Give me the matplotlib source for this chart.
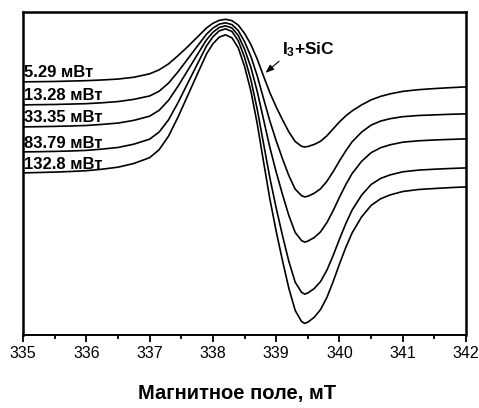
import matplotlib
matplotlib.use("Agg")
import matplotlib.pyplot as plt
from matplotlib.ticker import MultipleLocator

plt.rcParams["font.family"] = ["Liberation Sans", "DejaVu Sans"]
plt.rcParams["mathtext.fontset"] = "custom"
plt.rcParams["mathtext.bf"] = "Liberation Sans:bold"

# magnetic field, mT
field = [335, 335.25, 335.5, 335.75, 336, 336.25, 336.5, 336.75, 337, 337.15,
         337.3, 337.45, 337.6, 337.75, 337.9, 338, 338.1, 338.2, 338.3, 338.4,
         338.5, 338.6, 338.7, 338.8, 338.9, 339, 339.1, 339.2, 339.3, 339.4,
         339.45, 339.5, 339.6, 339.7, 339.8, 339.9, 340, 340.1, 340.2, 340.35,
         340.5, 340.65, 340.8, 341, 341.25, 341.5, 341.75, 342]

# EPR derivative signal (arb. units), one spectrum per microwave power
sig_5_29 = [253, 253.2, 253.4, 253.8, 254.2, 254.9, 255.8, 257.6, 261.0, 265.0,
            271.0, 279.2, 288.0, 297.5, 306.9, 311.5, 314.5, 315.5, 314.2, 309.8,
            301.5, 290.4, 275.9, 258.8, 242.2, 228.0, 215.1, 203.0, 193.4, 188.6,
            187.9, 188.4, 190.4, 193.6, 199.0, 206.0, 213.0, 219.0, 224.0, 230.0,
            235.0, 238.5, 241.0, 243.5, 245.2, 246.3, 247.2, 248]
sig_13_28 = [230, 230.2, 230.4, 230.8, 231.2, 232.1, 233.3, 235.5, 238.9, 243.6,
             251.8, 263.1, 275.7, 288.3, 300.7, 306.7, 310.7, 312.0, 310.3, 304.3,
             293.3, 278.5, 259.1, 236.4, 213.9, 194.1, 176.1, 159.3, 145.8, 139.3,
             138.0, 138.7, 141.6, 146.1, 153.5, 163.2, 174.0, 184.1, 193.1, 202.8,
             209.8, 213.8, 216.2, 218.2, 219.4, 220.0, 220.6, 221]
sig_33_35 = [208, 208.2, 208.5, 208.9, 209.4, 210.5, 211.8, 214.5, 218.7, 224.5,
             234.6, 248.7, 264.2, 279.7, 295.1, 302.5, 307.4, 309.0, 306.9, 299.5,
             285.8, 267.6, 243.6, 215.5, 187.5, 162.9, 140.4, 119.4, 102.5, 94.4,
             92.8, 93.8, 97.3, 103.0, 112.2, 124.3, 137.7, 150.3, 161.4, 173.6,
             182.2, 187.2, 190.1, 192.7, 194.1, 194.9, 195.5, 196]
sig_83_79 = [183, 183.2, 183.5, 183.9, 184.5, 185.8, 187.4, 190.7, 195.7, 202.8,
             215.1, 232.3, 251.3, 270.2, 289.0, 298.0, 304.0, 306.0, 303.4, 294.3,
             277.6, 255.2, 225.8, 191.4, 157.1, 126.9, 99.3, 73.6, 52.8, 42.7,
             40.8, 42.0, 46.3, 53.3, 64.6, 79.4, 95.8, 111.3, 124.9, 139.8,
             150.4, 156.5, 160.0, 163.1, 164.8, 165.7, 166.4, 167]
sig_132_8 = [162, 162.4, 162.8, 163.4, 164.2, 165.7, 167.7, 171.4, 177.2, 185.1,
             198.8, 217.9, 239.0, 260.1, 281.0, 291.0, 297.7, 300.0, 297.1, 287.1,
             268.6, 243.9, 211.4, 173.3, 136.0, 103.7, 74.2, 46.7, 24.6, 13.5,
             11.6, 12.8, 17.6, 25.3, 37.3, 53.3, 70.9, 87.5, 102.1, 118.1,
             129.5, 136.1, 140.0, 143.4, 145.4, 146.4, 147.3, 148]

powers = ["5.29 мВт", "13.28 мВт", "33.35 мВт", "83.79 мВт", "132.8 мВт"]
spectra = [sig_5_29, sig_13_28, sig_33_35, sig_83_79, sig_132_8]

fig = plt.figure(figsize=(4.79, 4.08), dpi=100)
ax = fig.add_axes([0.048, 0.179, 0.925, 0.792])

for label, sig in zip(powers, spectra):
    ax.plot(field, sig, color="black", lw=1.2)
    # power label sits on the left wing of each spectrum
    ax.annotate(label, xy=(field[0], sig[0]), xytext=(0.5, 1),
                textcoords="offset points", ha="left", va="bottom",
                fontsize=12, fontweight="bold")

ax.annotate(r"$\mathbf{I_3{+}SiC}$", xy=(338.83, 262), xytext=(339.09, 276),
            ha="left", va="bottom", fontsize=12.5,
            arrowprops=dict(arrowstyle="-|>,head_length=0.4,head_width=0.15",
                            color="black", lw=0.8, relpos=(0, 0),
                            shrinkA=0, shrinkB=0))

ax.set_xlim(335, 342)
ax.set_ylim(0, 323)
ax.xaxis.set_major_locator(MultipleLocator(1))
ax.xaxis.set_minor_locator(MultipleLocator(0.5))
ax.set_yticks([])
ax.tick_params(axis="x", which="major", direction="out", length=5,
               width=1.3, labelsize=11.5, pad=3)
ax.tick_params(axis="x", which="minor", direction="out", length=3, width=1.3)
for side in ["left", "right", "top"]:
    ax.spines[side].set_linewidth(1.8)
ax.spines["bottom"].set_linewidth(1.4)

ax.set_xlabel("Магнитное поле, мТ", fontsize=14.5, fontweight="bold")
ax.xaxis.set_label_coords(0.483, -0.152)

fig.savefig("out.png", dpi=100)
